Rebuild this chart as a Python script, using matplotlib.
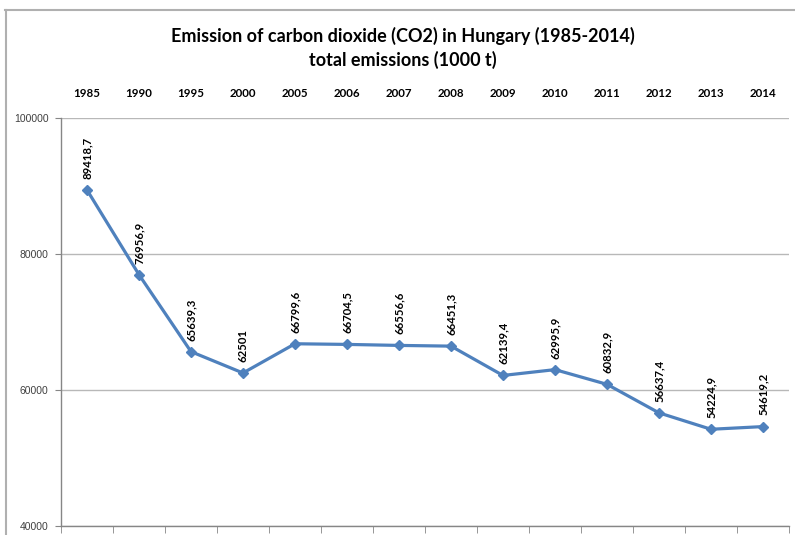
import matplotlib
matplotlib.use("Agg")
import matplotlib.pyplot as plt
from matplotlib.lines import Line2D

years = ["1985", "1990", "1995", "2000", "2005", "2006", "2007", "2008",
         "2009", "2010", "2011", "2012", "2013", "2014"]
emissions = [89418.7, 76956.9, 65639.3, 62501, 66799.6, 66704.5, 66556.6,
             66451.3, 62139.4, 62995.9, 60832.9, 56637.4, 54224.9, 54619.2]
y_ticks = [40000, 60000, 80000, 100000]
title = "Emission of carbon dioxide (CO2) in Hungary (1985-2014)\ntotal emissions (1000 t)"

plt.rcParams['font.family'] = ['Lato', 'DejaVu Sans']

fig = plt.figure(figsize=(7.95, 5.35), dpi=100)
W, H = 795, 535
ax = fig.add_axes([61 / W, 1 - 526 / H, (789 - 61) / W, (526 - 118) / H])

x = list(range(len(years)))
ax.plot(x, emissions, color='#4F81BD', lw=2.3, marker='D', markersize=5.5,
        markerfacecolor='#4F81BD', markeredgecolor='#4F81BD', zorder=3)

for xi, v in zip(x, emissions):
    lbl = f"{v:g}".replace('.', ',')
    ax.annotate(lbl, (xi, v), xytext=(0, 8), textcoords='offset points',
                rotation=90, ha='center', va='bottom', fontsize=8.2,
                fontweight='bold', color='black')

ax.set_xlim(-0.5, len(years) - 0.5)
ax.set_ylim(40000, 100000)
ax.set_yticks(y_ticks)
ax.set_yticklabels([str(t) for t in y_ticks], fontsize=7.5, color='#404040',
                   family='Liberation Sans')
ax.yaxis.grid(True, color='#b8b8b8', lw=1)
ax.set_axisbelow(True)

ax.set_xticks(x)
ax.set_xticklabels(years, fontsize=8.3, fontweight='bold')
ax.set_xticks([i - 0.5 for i in range(len(years) + 1)], minor=True)
ax.tick_params(axis='x', which='major', top=True, labeltop=True, bottom=False,
               labelbottom=False, length=0, pad=14)
ax.tick_params(axis='x', which='minor', bottom=True, top=False, length=5,
               color='#868686', direction='out')
ax.tick_params(axis='y', length=4, color='#868686', direction='out', pad=5)

for s in ['top', 'right']:
    ax.spines[s].set_visible(False)
for s in ['left', 'bottom']:
    ax.spines[s].set_color('#868686')
    ax.spines[s].set_linewidth(1)

fig.text(403 / W, 1 - 48 / H, title, ha='center', va='center', fontsize=13,
         fontweight='bold', linespacing=1.4)

fig.add_artist(Line2D([5 / W, 1], [1 - 10 / H, 1 - 10 / H], color='#b0b0b0',
                      lw=1.5, transform=fig.transFigure))
fig.add_artist(Line2D([6 / W, 6 / W], [0, 1 - 10 / H], color='#b0b0b0',
                      lw=1.5, transform=fig.transFigure))

fig.savefig("out.png", dpi=100)
